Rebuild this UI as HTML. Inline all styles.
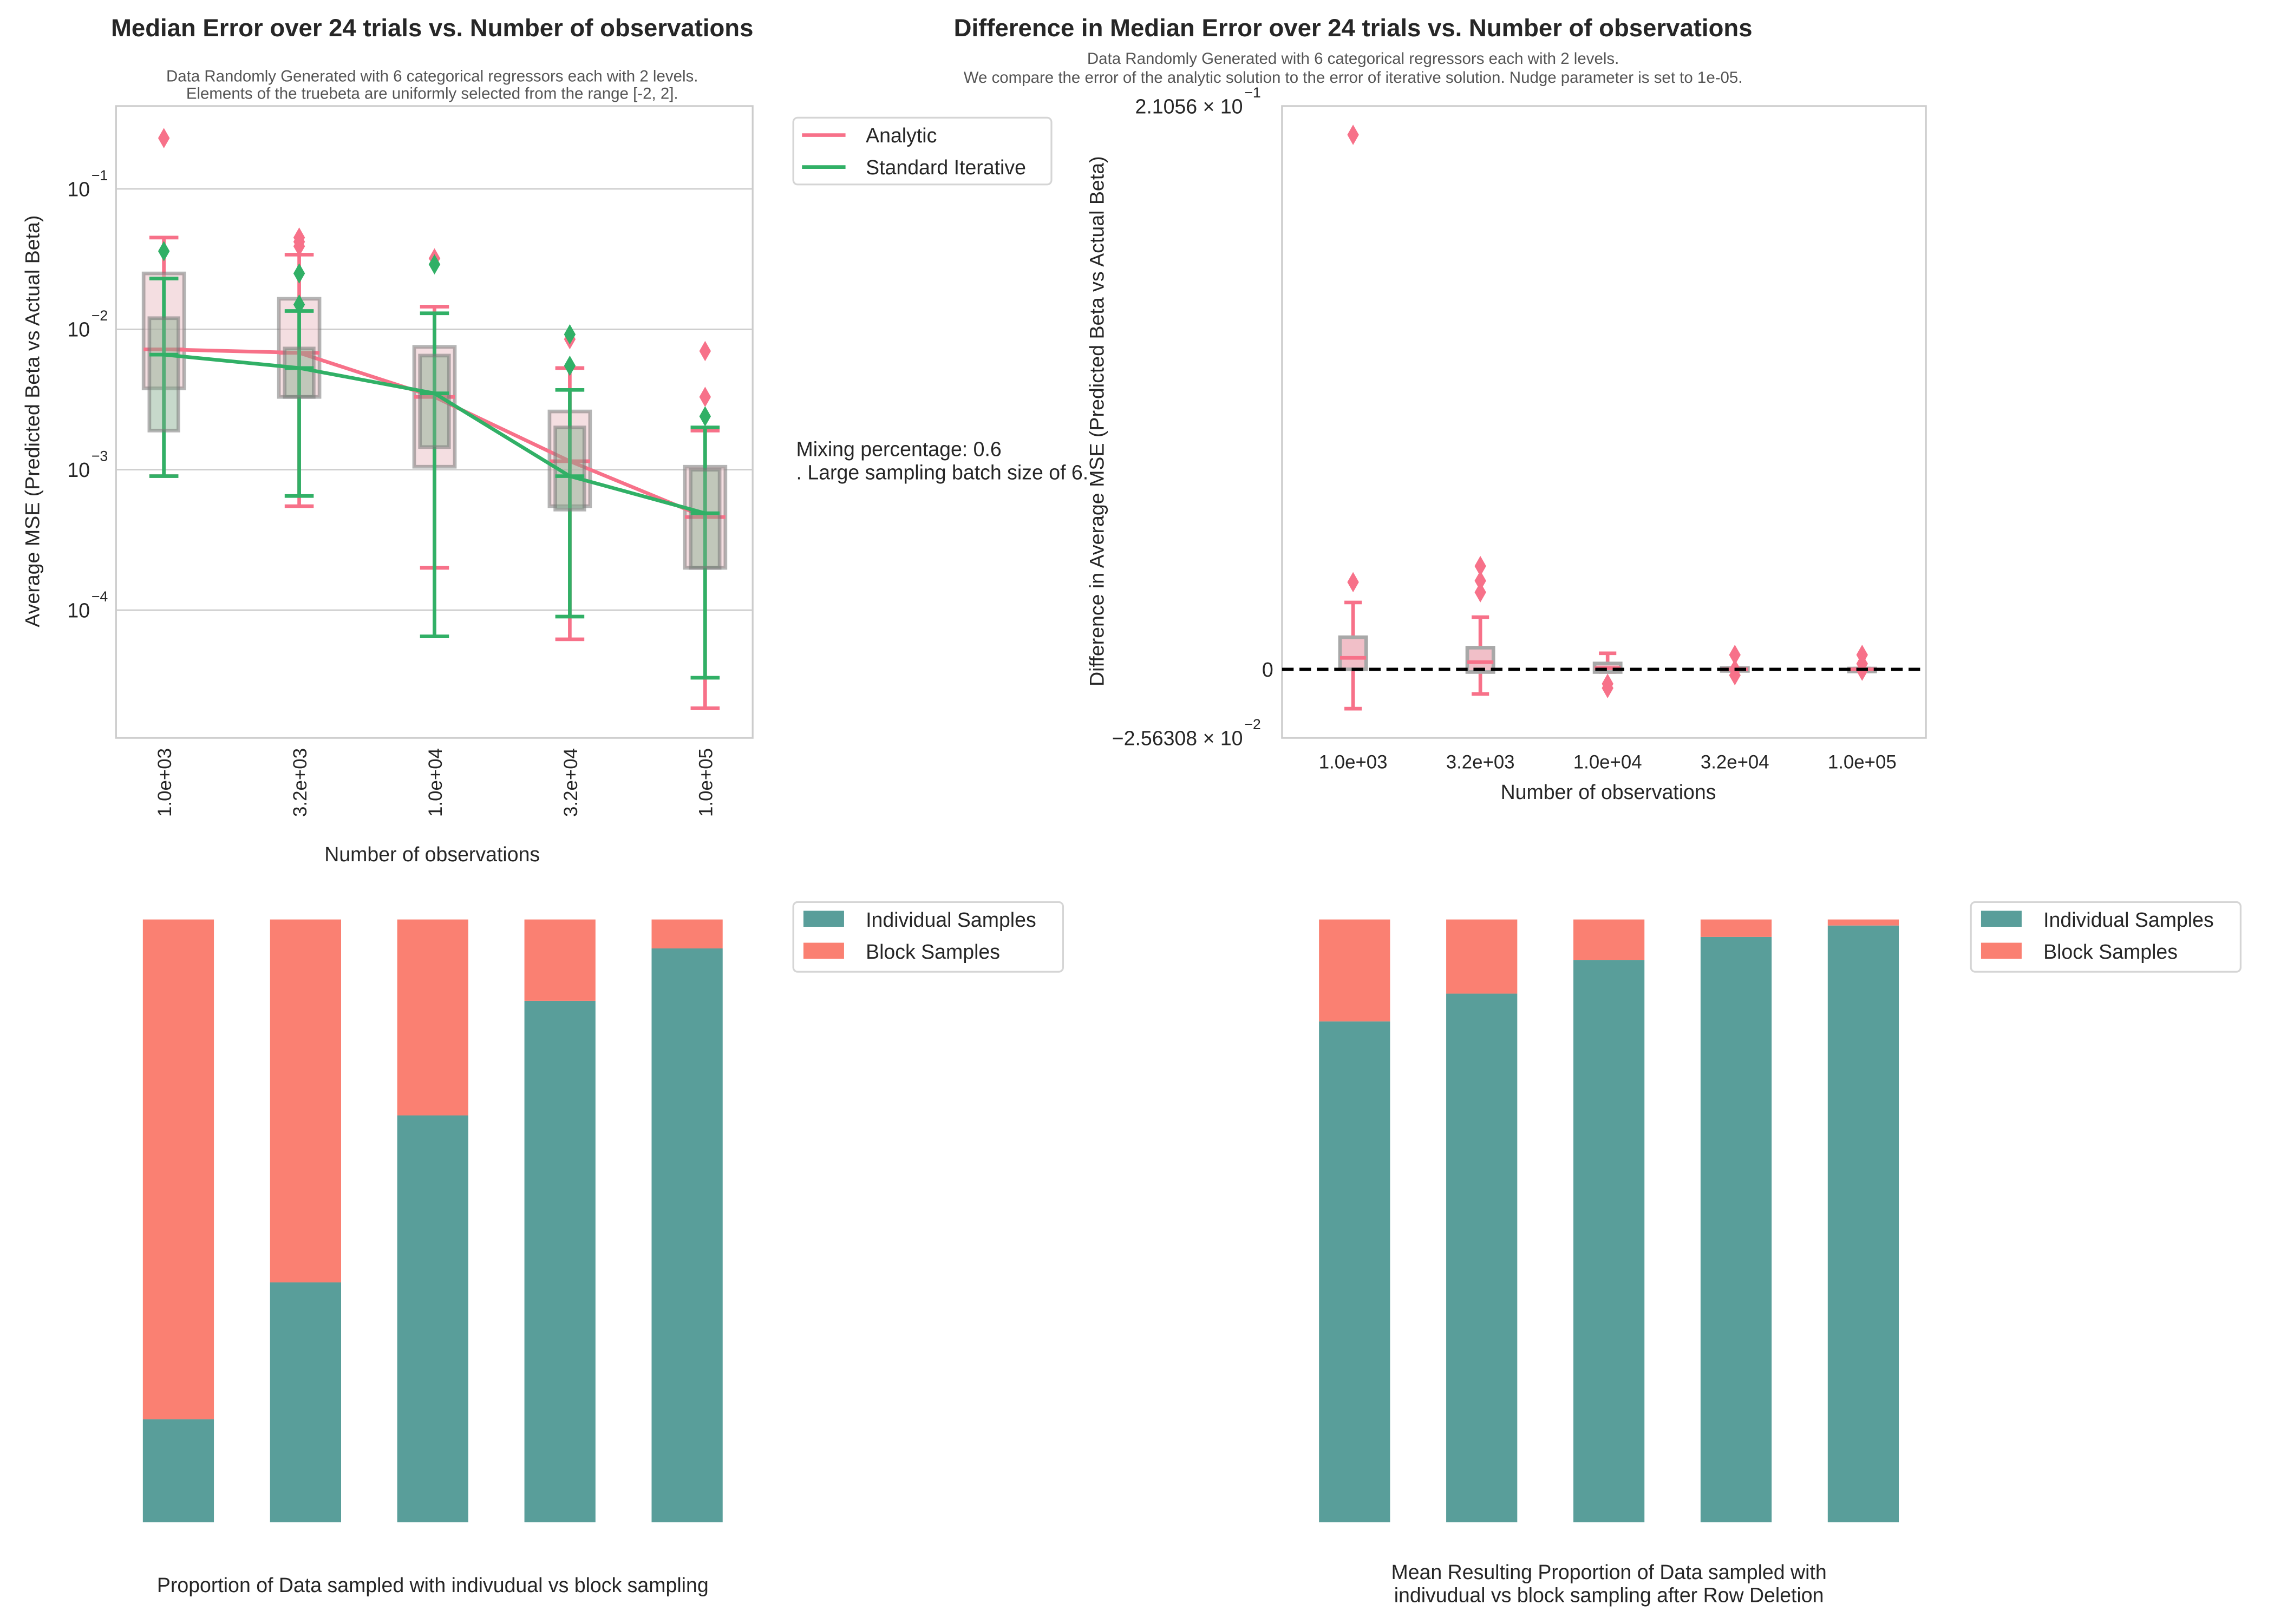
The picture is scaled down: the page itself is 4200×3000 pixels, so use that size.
<!DOCTYPE html>
<html><head><meta charset="utf-8">
<style>
html,body{margin:0;padding:0;background:#fff;}
svg{display:block;font-family:"Liberation Sans",Arial,sans-serif;}
</style></head>
<body>
<svg id="fig" xmlns="http://www.w3.org/2000/svg" width="4200" height="3000" viewBox="0 0 1568 1118" preserveAspectRatio="none">
<rect x="0" y="0" width="1568" height="1118" fill="#fff"/>
<g id="g1"></g>
<g id="g2"></g>
<g id="g3"></g>
<g id="g4"></g>
</svg>
<script>
const categories = ["1.0e+03","3.2e+03","1.0e+04","3.2e+04","1.0e+05"];
// Panel 1: analytic (pink) box stats
const anaQ1 = [3.8e-3,3.3e-3,1.05e-3,5.5e-4,2.0e-4];
const anaQ3 = [2.5e-2,1.65e-2,7.5e-3,2.6e-3,1.05e-3];
const anaMed = [7.2e-3,6.8e-3,3.3e-3,1.15e-3,4.6e-4];
const anaLo = [9.0e-4,5.5e-4,2.0e-4,6.2e-5,2.0e-5];
const anaHi = [4.5e-2,3.4e-2,1.45e-2,5.3e-3,1.9e-3];
const anaOut = [[0.23],[4.5e-2,4.2e-2,3.9e-2],[3.2e-2],[8.5e-3],[7.0e-3,3.3e-3]];
// Panel 1: standard iterative (green)
const itQ1 = [1.9e-3,3.3e-3,1.45e-3,5.2e-4,2.0e-4];
const itQ3 = [1.2e-2,7.3e-3,6.5e-3,2.0e-3,1.0e-3];
const itMed = [6.6e-3,5.3e-3,3.5e-3,9.0e-4,4.9e-4];
const itLo = [9.0e-4,6.5e-4,6.5e-5,9.0e-5,3.3e-5];
const itHi = [2.3e-2,1.35e-2,1.3e-2,3.7e-3,2.0e-3];
const itOut = [[3.6e-2],[2.5e-2,1.5e-2],[2.9e-2],[9.2e-3,5.5e-3],[2.4e-3]];
const logTicks = [-1,-2,-3,-4];
// Panel 2: difference
const dQ1 = [0,-0.001,-0.001,-0.0005,-0.0003];
const dQ3 = [0.012,0.0081,0.0022,0.0005,0.0003];
const dMed = [0.0043,0.0027,0.0005,0.0,0.0];
const dLo = [-0.0147,-0.0092,-0.001,-0.0005,-0.0003];
const dHi = [0.025,0.0195,0.006,0.0005,0.0003];
const dOut = [[0.1998,0.0326],[0.0386,0.0331,0.0288],[-0.0054,-0.007],[0.0054,-0.0022,0.0],[0.0054,0.0021,-0.0005]];
const dYmax = 0.21056, dYmin = -0.0256308;
// Panels 3/4: proportions
const indiv1 = [0.171,0.398,0.675,0.865,0.952];
const indiv2 = [0.831,0.877,0.933,0.971,0.990];

const NS="http://www.w3.org/2000/svg";
const PINK="#f77189", GREEN="#31b066", TEAL="#599e9a", SALMON="#fa8072";
function el(parent,tag,attrs,text){const e=document.createElementNS(NS,tag);for(const k in attrs)e.setAttribute(k,attrs[k]);if(text!==undefined)e.textContent=text;parent.appendChild(e);return e;}
function diamond(p,cx,cy,c,name){const e=el(p,"path",{d:`M${cx},${cy-7} L${cx+4},${cy} L${cx},${cy+7} L${cx-4},${cy} Z`,fill:c});

}

// ---------- Panel 1 ----------
(function(){
const g=document.getElementById("g1");
const L=80,R=519,T=73,B=508, top=-0.41, bot=-4.91;
const y=v=>T+(top-Math.log10(v))/(top-bot)*(B-T);
const x=i=>113+i*93.3;
el(g,"rect",{x:L,y:T,width:R-L,height:B-T,fill:"#fff",stroke:"#ccc","stroke-width":1.2});
logTicks.forEach(t=>{const yy=T+(top-t)/(top-bot)*(B-T);
 el(g,"line",{x1:L,x2:R,y1:yy,y2:yy,stroke:"#ccc","stroke-width":1});
 const tx=el(g,"text",{x:62,y:yy+5,"font-size":14,fill:"#262626","text-anchor":"end"},"10");
 
 el(g,"text",{x:63,y:yy-6,"font-size":10,fill:"#262626"},"−"+(-t));});
function series(Q1,Q3,Med,Lo,Hi,Out,col,w,fill,name){
 categories.forEach((c,i)=>{const cx=x(i);
  const wl=el(g,"line",{x1:cx,x2:cx,y1:y(Hi[i]),y2:y(Lo[i]),stroke:col,"stroke-width":2.5});
  
  [Hi[i],Lo[i]].forEach(v=>el(g,"line",{x1:cx-10,x2:cx+10,y1:y(v),y2:y(v),stroke:col,"stroke-width":2.5}));
  const b=el(g,"rect",{x:cx-w/2,y:y(Q3[i]),width:w,height:y(Q1[i])-y(Q3[i]),fill:fill,stroke:"rgba(120,120,120,0.55)","stroke-width":2.5});
  
  el(g,"line",{x1:cx-w/2,x2:cx+w/2,y1:y(Med[i]),y2:y(Med[i]),stroke:col,"stroke-width":2.5});
  Out[i].forEach(v=>diamond(g,cx,y(v),col,name+'-outlier'));
 });
 const pts=categories.map((c,i)=>x(i)+","+y(Med[i])).join(" ");
 const pl=el(g,"polyline",{points:pts,fill:"none",stroke:col,"stroke-width":2.5});
 
}
series(anaQ1,anaQ3,anaMed,anaLo,anaHi,anaOut,PINK,28,"rgba(233,190,196,0.5)","analytic");
series(itQ1,itQ3,itMed,itLo,itHi,itOut,GREEN,20,"rgba(130,170,140,0.45)","iterative");
categories.forEach((c,i)=>{const t=el(g,"text",{x:0,y:0,"font-size":13,fill:"#262626","text-anchor":"end",transform:`translate(${x(i)+5},515) rotate(-90)`},c);
 });
const xl=el(g,"text",{x:298,y:593,"font-size":14,fill:"#262626","text-anchor":"middle"},"Number of observations");

const yl=el(g,"text",{x:0,y:0,"font-size":14,fill:"#262626","text-anchor":"middle",transform:"translate(27,290) rotate(-90)"},"Average MSE (Predicted Beta vs Actual Beta)");

const ti=el(g,"text",{x:298,y:25,"font-size":17,"font-weight":"bold",fill:"#262626","text-anchor":"middle"},"Median Error over 24 trials vs. Number of observations");

el(g,"text",{x:298,y:56,"font-size":11,fill:"#555","text-anchor":"middle"},"Data Randomly Generated with 6 categorical regressors each with 2 levels.");
el(g,"text",{x:298,y:68,"font-size":11,fill:"#555","text-anchor":"middle"},"Elements of the truebeta are uniformly selected from the range [-2, 2].");
const lg=el(g,"g",{});
el(lg,"rect",{x:547,y:81,width:178,height:46,rx:3,fill:"#fff",stroke:"#d5d5d5","stroke-width":1.2});
el(lg,"line",{x1:553,x2:583,y1:93,y2:93,stroke:PINK,"stroke-width":2.5});
el(lg,"text",{x:597,y:98,"font-size":14,fill:"#262626"},"Analytic");
el(lg,"line",{x1:553,x2:583,y1:115,y2:115,stroke:GREEN,"stroke-width":2.5});
el(lg,"text",{x:597,y:120,"font-size":14,fill:"#262626"},"Standard Iterative");
el(g,"text",{x:549,y:314,"font-size":14,fill:"#262626"},"Mixing percentage: 0.6");
el(g,"text",{x:549,y:330,"font-size":14,fill:"#262626"},". Large sampling batch size of 6.");
})();

// ---------- Panel 2 ----------
(function(){
const g=document.getElementById("g2");
const L=884,R=1328,T=73,B=508;
const y=v=>T+(dYmax-v)/(dYmax-dYmin)*(B-T);
const x=i=>933+i*87.75;
el(g,"rect",{x:L,y:T,width:R-L,height:B-T,fill:"#fff",stroke:"#ccc","stroke-width":1.2});
categories.forEach((c,i)=>{const cx=x(i);
 const wl=el(g,"line",{x1:cx,x2:cx,y1:y(dHi[i]),y2:y(dLo[i]),stroke:PINK,"stroke-width":2.5});
 
 [dHi[i],dLo[i]].forEach(v=>el(g,"line",{x1:cx-6,x2:cx+6,y1:y(v),y2:y(v),stroke:PINK,"stroke-width":2.5}));
 const b=el(g,"rect",{x:cx-9,y:y(dQ3[i]),width:18,height:Math.max(2,y(dQ1[i])-y(dQ3[i])),fill:"#f1bfc8",stroke:"#a8a8a8","stroke-width":2.5});
 
 el(g,"line",{x1:cx-9,x2:cx+9,y1:y(dMed[i]),y2:y(dMed[i]),stroke:PINK,"stroke-width":2.5});
 dOut[i].forEach(v=>diamond(g,cx,y(v),PINK,'difference-outlier'));
 const t=el(g,"text",{x:cx,y:529,"font-size":13,fill:"#262626","text-anchor":"middle"},c);
 
});
const zl=el(g,"line",{x1:L,x2:R,y1:y(0),y2:y(0),stroke:"#000","stroke-width":2.2,"stroke-dasharray":"8,4"});

el(g,"text",{x:878,y:y(0)+5,"font-size":14,fill:"#262626","text-anchor":"end"},"0");
el(g,"text",{x:857,y:y(dYmax)+5,"font-size":14,fill:"#262626","text-anchor":"end"},"2.1056 × 10");
el(g,"text",{x:858,y:y(dYmax)-6,"font-size":10,fill:"#262626"},"−1");
el(g,"text",{x:857,y:y(dYmin)+5,"font-size":14,fill:"#262626","text-anchor":"end"},"−2.56308 × 10");
el(g,"text",{x:858,y:y(dYmin)-6,"font-size":10,fill:"#262626"},"−2");
const xl=el(g,"text",{x:1109,y:550,"font-size":14,fill:"#262626","text-anchor":"middle"},"Number of observations");

const yl=el(g,"text",{x:0,y:0,"font-size":14,fill:"#262626","text-anchor":"middle",transform:"translate(761,290) rotate(-90)"},"Difference in Average MSE (Predicted Beta vs Actual Beta)");

const ti=el(g,"text",{x:933,y:25,"font-size":17,"font-weight":"bold",fill:"#262626","text-anchor":"middle"},"Difference in Median Error over 24 trials vs. Number of observations");

el(g,"text",{x:933,y:44,"font-size":11,fill:"#555","text-anchor":"middle"},"Data Randomly Generated with 6 categorical regressors each with 2 levels.");
el(g,"text",{x:933,y:57,"font-size":11,fill:"#555","text-anchor":"middle"},"We compare the error of the analytic solution to the error of iterative solution. Nudge parameter is set to 1e-05.");
})();

// ---------- Bar panels ----------
function bars(gid,vals,x0,legX,captions,name){
 const g=document.getElementById(gid);
 const T=633,B=1048;
 const y=v=>B-v*(B-T);
 vals.forEach((v,i)=>{const cx=x0+i*87.7;
  const a=el(g,"rect",{x:cx-24.5,y:y(v),width:49,height:B-y(v),fill:TEAL});
  
  const b=el(g,"rect",{x:cx-24.5,y:T,width:49,height:y(v)-T,fill:SALMON});
  
 });
 const lg=el(g,"g",{});
 el(lg,"rect",{x:legX,y:621,width:186,height:48,rx:3,fill:"#fff",stroke:"#d5d5d5","stroke-width":1.2});
 el(lg,"rect",{x:legX+7,y:627,width:28,height:11,fill:TEAL});
 el(lg,"text",{x:legX+50,y:638,"font-size":14,fill:"#262626"},"Individual Samples");
 el(lg,"rect",{x:legX+7,y:649,width:28,height:11,fill:SALMON});
 el(lg,"text",{x:legX+50,y:660,"font-size":14,fill:"#262626"},"Block Samples");
 captions.forEach((c,k)=>{const t=el(g,"text",{x:x0+2*87.7,y:(captions.length>1?1087:1096)+k*16,"font-size":14,fill:"#262626","text-anchor":"middle"},c);
  });
}
bars("g3",indiv1,123,547,["Proportion of Data sampled with indivudual vs block sampling"],"sampling");
bars("g4",indiv2,934,1359,["Mean Resulting Proportion of Data sampled with","indivudual vs block sampling after Row Deletion"],"deletion");
</script>
</body></html>
